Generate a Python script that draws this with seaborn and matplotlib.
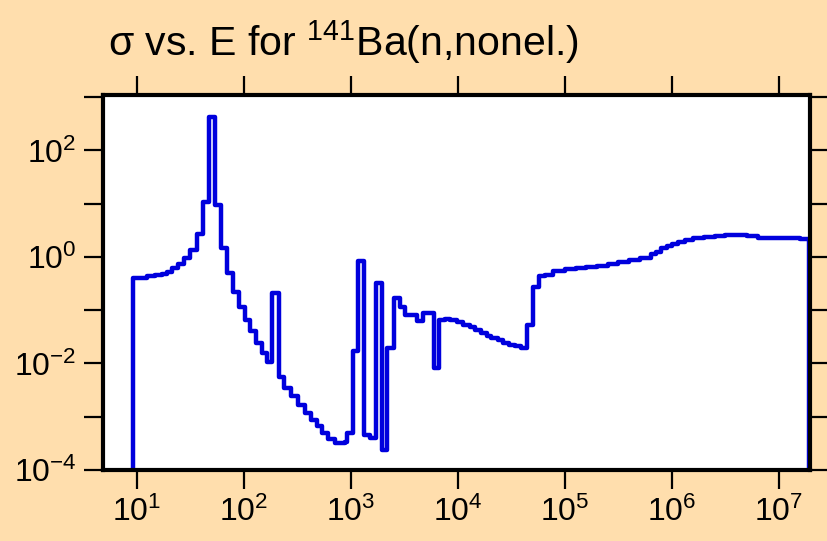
import numpy as np
import matplotlib
matplotlib.use("Agg")
import matplotlib.pyplot as plt
from matplotlib.ticker import FixedLocator, NullLocator, FixedFormatter
import seaborn as sns

# step edges (eV) and cross sections (b)
energy = [9.2, 9.2, 12.3, 14.7, 17.0, 19.0, 21.1, 24.3, 27.5, 31.3, 36.1, 41.1,
          46.5, 53.6, 60.5, 69.8, 79.4, 90.4, 102, 114, 128, 146, 163, 182,
          212, 238, 273, 316, 372, 420, 479, 537, 614, 708, 879, 923,
          1050, 1170, 1318, 1507, 1714, 1936, 2188, 2512, 2871, 3199,
          4111, 4677, 5970, 6699, 7568, 8414, 9727, 11220, 12880, 14450,
          16220, 18620, 20420, 23440, 26300, 30200, 33900, 38460, 44460,
          50120, 57540, 64570, 77620, 1.0e5, 1.26e5, 1.58e5, 2.0e5, 2.51e5,
          3.16e5, 3.98e5, 5.01e5, 6.31e5, 7.08e5, 7.94e5, 8.91e5, 1.0e6,
          1.15e6, 1.32e6, 1.58e6, 2.0e6, 2.51e6, 3.16e6, 3.98e6, 5.01e6,
          6.31e6, 7.94e6, 1.0e7, 1.26e7, 1.58e7, 1.9e7, 1.9e7]
sigma = [1e-6, 0.41, 0.43, 0.45, 0.48, 0.53, 0.62, 0.74, 0.94, 1.38, 2.75, 10.7,
         427, 9.5, 1.45, 0.49, 0.224, 0.117, 0.066, 0.040, 0.024, 0.0155, 0.0105, 0.214,
         0.0055, 0.0035, 0.0024, 0.00166, 0.0012, 0.00087, 0.00066, 0.00049, 0.00038, 0.00032, 0.00033, 0.0005,
         0.0174, 0.85, 0.00046, 0.0004, 0.33, 0.000234, 0.0195, 0.168, 0.117, 0.081,
         0.062, 0.087, 0.0081, 0.066, 0.069, 0.065, 0.059, 0.052, 0.048, 0.043,
         0.037, 0.033, 0.030, 0.0275, 0.0245, 0.0224, 0.0209, 0.0195, 0.052,
         0.275, 0.436, 0.468, 0.55, 0.589, 0.617, 0.646, 0.676, 0.724,
         0.794, 0.871, 0.977, 1.12, 1.26, 1.45, 1.62, 1.78,
         1.95, 2.09, 2.24, 2.40, 2.51, 2.63, 2.63, 2.45,
         2.29, 2.26, 2.24, 2.24, 2.21, 2.21, 1e-6]

x_ticks = [1e1, 1e2, 1e3, 1e4, 1e5, 1e6, 1e7]
x_labels = [r"$\mathregular{10^{%d}}$" % k for k in range(1, 8)]
y_ticks = [1e-4, 1e-3, 1e-2, 1e-1, 1e0, 1e1, 1e2, 1e3]
y_labels = [r"$\mathregular{10^{-4}}$", "", r"$\mathregular{10^{-2}}$", "",
            r"$\mathregular{10^{0}}$", "", r"$\mathregular{10^{2}}$", ""]

sns.set_style("ticks")
plt.rcParams["font.family"] = ["Liberation Sans", "DejaVu Sans"]
plt.rcParams["mathtext.fontset"] = "custom"
plt.rcParams["mathtext.rm"] = "Liberation Sans"
plt.rcParams["mathtext.it"] = "Liberation Sans:italic"
plt.rcParams["text.color"] = "black"

bg = "#FFDEAD"
fig = plt.figure(figsize=(8.27, 5.41), dpi=100, facecolor=bg)
ax = fig.add_axes([103 / 827, 71 / 541, 707 / 827, 375 / 541])
ax.set_facecolor("white")

sns.lineplot(x=energy, y=sigma, estimator=None, sort=False, drawstyle="steps-post",
             color="#0000DD", linewidth=3.2, ax=ax)

ax.set_xscale("log")
ax.set_yscale("log")
ax.set_xlim(4.8, 1.95e7)
ax.set_ylim(1e-4, 1.1e3)

ax.xaxis.set_major_locator(FixedLocator(x_ticks))
ax.xaxis.set_major_formatter(FixedFormatter(x_labels))
ax.xaxis.set_minor_locator(NullLocator())
ax.yaxis.set_major_locator(FixedLocator(y_ticks))
ax.yaxis.set_major_formatter(FixedFormatter(y_labels))
ax.yaxis.set_minor_locator(NullLocator())

ax.tick_params(axis="both", which="major", direction="out", length=14, width=1.6,
               color="black", labelcolor="black", labelsize=23, top=True, right=True, pad=5)
for s in ax.spines.values():
    s.set_linewidth(3)
    s.set_color("black")

fig.text(108 / 827, 1 - 42 / 541, r"σ vs. E for $\mathregular{^{141}}$Ba(n,nonel.)",
         fontsize=29.5, va="center", ha="left")

fig.savefig("out.png", dpi=100, facecolor=bg)
